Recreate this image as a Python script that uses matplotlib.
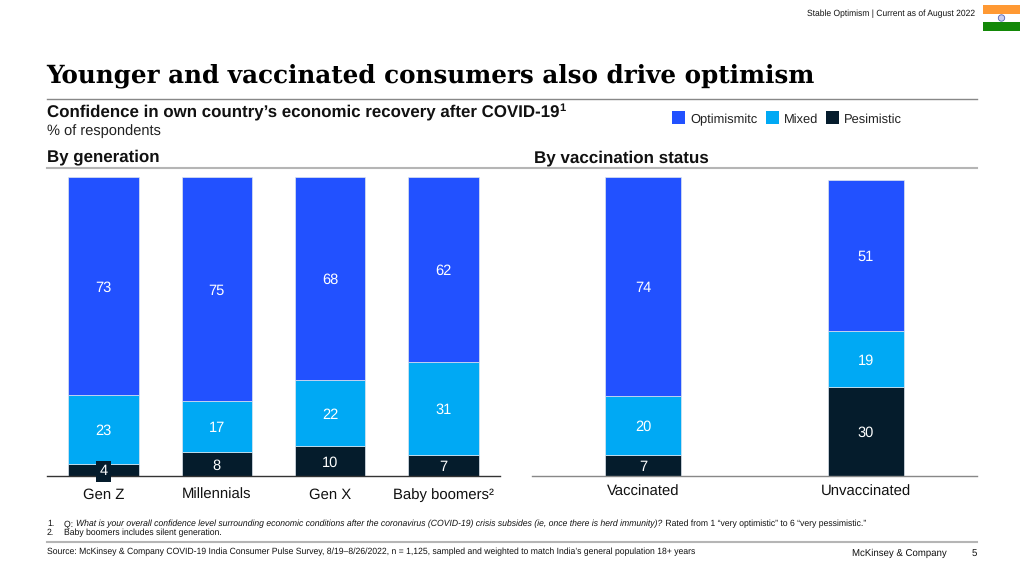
# -*- coding: utf-8 -*-
import numpy as np
import matplotlib
matplotlib.use('Agg')
import matplotlib.pyplot as plt
from matplotlib.patches import Rectangle, Circle

plt.rcParams['font.family'] = ['Liberation Sans', 'DejaVu Sans']
plt.rcParams['text.hinting'] = 'no_hinting'

W, H = 1024, 576
BLUE = '#2251FF'
CYAN = '#00A9F4'
NAVY = '#051C2C'

generations = ['Gen Z', 'Millennials', 'Gen X', 'Baby boomers²']
gen_pessimistic = [4, 8, 10, 7]
gen_mixed = [23, 17, 22, 31]
gen_optimistic = [73, 75, 68, 62]

vaccination = ['Vaccinated', 'Unvaccinated']
vac_pessimistic = [7, 30]
vac_mixed = [20, 19]
vac_optimistic = [74, 51]

legend_labels = ['Optimismitc', 'Mixed', 'Pesimistic']


def px_axes(fig, x0, y0, x1, y1):
    # axes from pixel box, y measured from the top
    return fig.add_axes([x0 / W, 1 - y1 / H, (x1 - x0) / W, (y1 - y0) / H])


def stacked(ax, labels, low, mid, high, width, ymax, base_color, pad):
    x = np.arange(len(labels))
    low, mid, high = np.array(low), np.array(mid), np.array(high)
    bottoms = [0 * low, low, low + mid]
    for vals, bottom, color in zip([low, mid, high], bottoms, [NAVY, CYAN, BLUE]):
        ax.bar(x, vals, width, bottom=bottom, color=color, edgecolor='#dfe6ee', linewidth=0.5)
        for xi, v, b in zip(x, vals, bottom):
            t = ax.text(xi, b + v / 2, str(v), color='white', fontsize=10.5,
                        ha='center', va='center_baseline', clip_on=False, zorder=5)
            if v < 5:
                t.set_bbox(dict(facecolor=NAVY, edgecolor='none', pad=2.5))
    ax.set_xlim(-0.5, len(labels) - 0.5)
    ax.set_ylim(0, ymax)
    ax.set_xticks(x, labels, va='baseline')
    ax.set_yticks([])
    ax.tick_params(axis='x', length=0, pad=pad, labelsize=10.7, labelcolor='#111111')
    for s in ['top', 'left', 'right']:
        ax.spines[s].set_visible(False)
    ax.spines['bottom'].set_color(base_color)
    ax.spines['bottom'].set_linewidth(1.0)
    ax.patch.set_alpha(0)


fig = plt.figure(figsize=(W / 100, H / 100), dpi=100, facecolor='white')

# full page overlay in pixel coordinates for texts and rules
page = fig.add_axes([0, 0, 1, 1])
page.set_xlim(0, W)
page.set_ylim(H, 0)
page.axis('off')

stacked(px_axes(fig, 47, 177, 500, 476), generations, gen_pessimistic, gen_mixed,
        gen_optimistic, 0.624, 100, '#333333', 16.6)
stacked(px_axes(fig, 532, 177, 977, 476), vaccination, vac_pessimistic, vac_mixed,
        vac_optimistic, 0.34, 101, '#888888', 14.4)

#rules
page.plot([47, 977], [99, 99], color='#888888', lw=1.0)
page.plot([47, 977], [168, 168], color='#b5b5b5', lw=1.5)
page.plot([47, 977], [542, 542], color='#b5b5b5', lw=1.5)

#headers
page.text(975, 13.5, 'Stable Optimism | Current as of August 2022', fontsize=6.15,
          ha='right', va='center', color='#111111')
page.text(46, 82.5, 'Younger and vaccinated consumers also drive optimism', fontsize=17.7,
          family=['DejaVu Serif'], weight='bold', ha='left', va='baseline', color='black')
t_head = page.text(47, 112, 'Confidence in own country’s economic recovery after COVID-19', fontsize=12.2,
                   weight='bold', ha='left', va='center', color='#111111')
rend = fig.canvas.get_renderer()
page.text(t_head.get_window_extent(rend).x1 + 0.3, 108.5, '1', fontsize=8, weight='bold',
          ha='left', va='center', color='#111111')
page.text(47, 131, '% of respondents', fontsize=10.5, ha='left', va='center', color='#222222')
page.text(47, 157, 'By generation', fontsize=12.2, weight='bold', ha='left', va='center', color='#111111')
page.text(534, 158, 'By vaccination status', fontsize=12.25, weight='bold', ha='left', va='center', color='#111111')

#legend
for x_box, x_text, color, label in zip([672, 766, 826], [690, 784, 844], [BLUE, CYAN, NAVY], legend_labels):
    page.add_patch(Rectangle((x_box, 111), 13, 13, facecolor=color, edgecolor='none'))
    page.text(x_text, 120, label, fontsize=9.3, ha='left', va='center', color='#222222')

#flag
page.add_patch(Rectangle((983, 5), 37, 8.5, facecolor='#FF9933', edgecolor='none'))
page.add_patch(Rectangle((983, 13.5), 37, 8, facecolor='white', edgecolor='none'))
page.add_patch(Rectangle((983, 21.5), 37, 9, facecolor='#138808', edgecolor='none'))
page.add_patch(Circle((1001.5, 18), 3.2, facecolor='#c9cdf0', edgecolor='#5560b0', lw=0.6))

#footnotes
fn = dict(fontsize=6.2, ha='left', va='center', color='#111111')
page.text(47, 523.5, '1.', **fn)
page.text(47, 533, '2.', **fn)
page.text(64, 533, 'Baby boomers includes silent generation.', **fn)
page.text(64, 523.5, 'Q: ', **fn)
t2 = page.text(76, 523.5, 'What is your overall confidence level surrounding economic conditions after the '
               'coronavirus (COVID-19) crisis subsides (ie, once there is herd immunity)?',
               style='italic', **fn)
page.text(t2.get_window_extent(rend).x1 + 1, 523.5,
          ' Rated from 1 “very optimistic” to 6 “very pessimistic.”', **fn)

page.text(47, 552, 'Source: McKinsey & Company COVID-19 India Consumer Pulse Survey, 8/19–8/26/2022, '
          'n = 1,125, sampled and weighted to match India’s general population 18+ years', **fn)
page.text(947, 553.5, 'McKinsey & Company', fontsize=6.9, ha='right', va='center', color='#111111')
page.text(977, 553.5, '5', fontsize=6.9, ha='right', va='center', color='#111111')

fig.savefig('out.png', dpi=100)
